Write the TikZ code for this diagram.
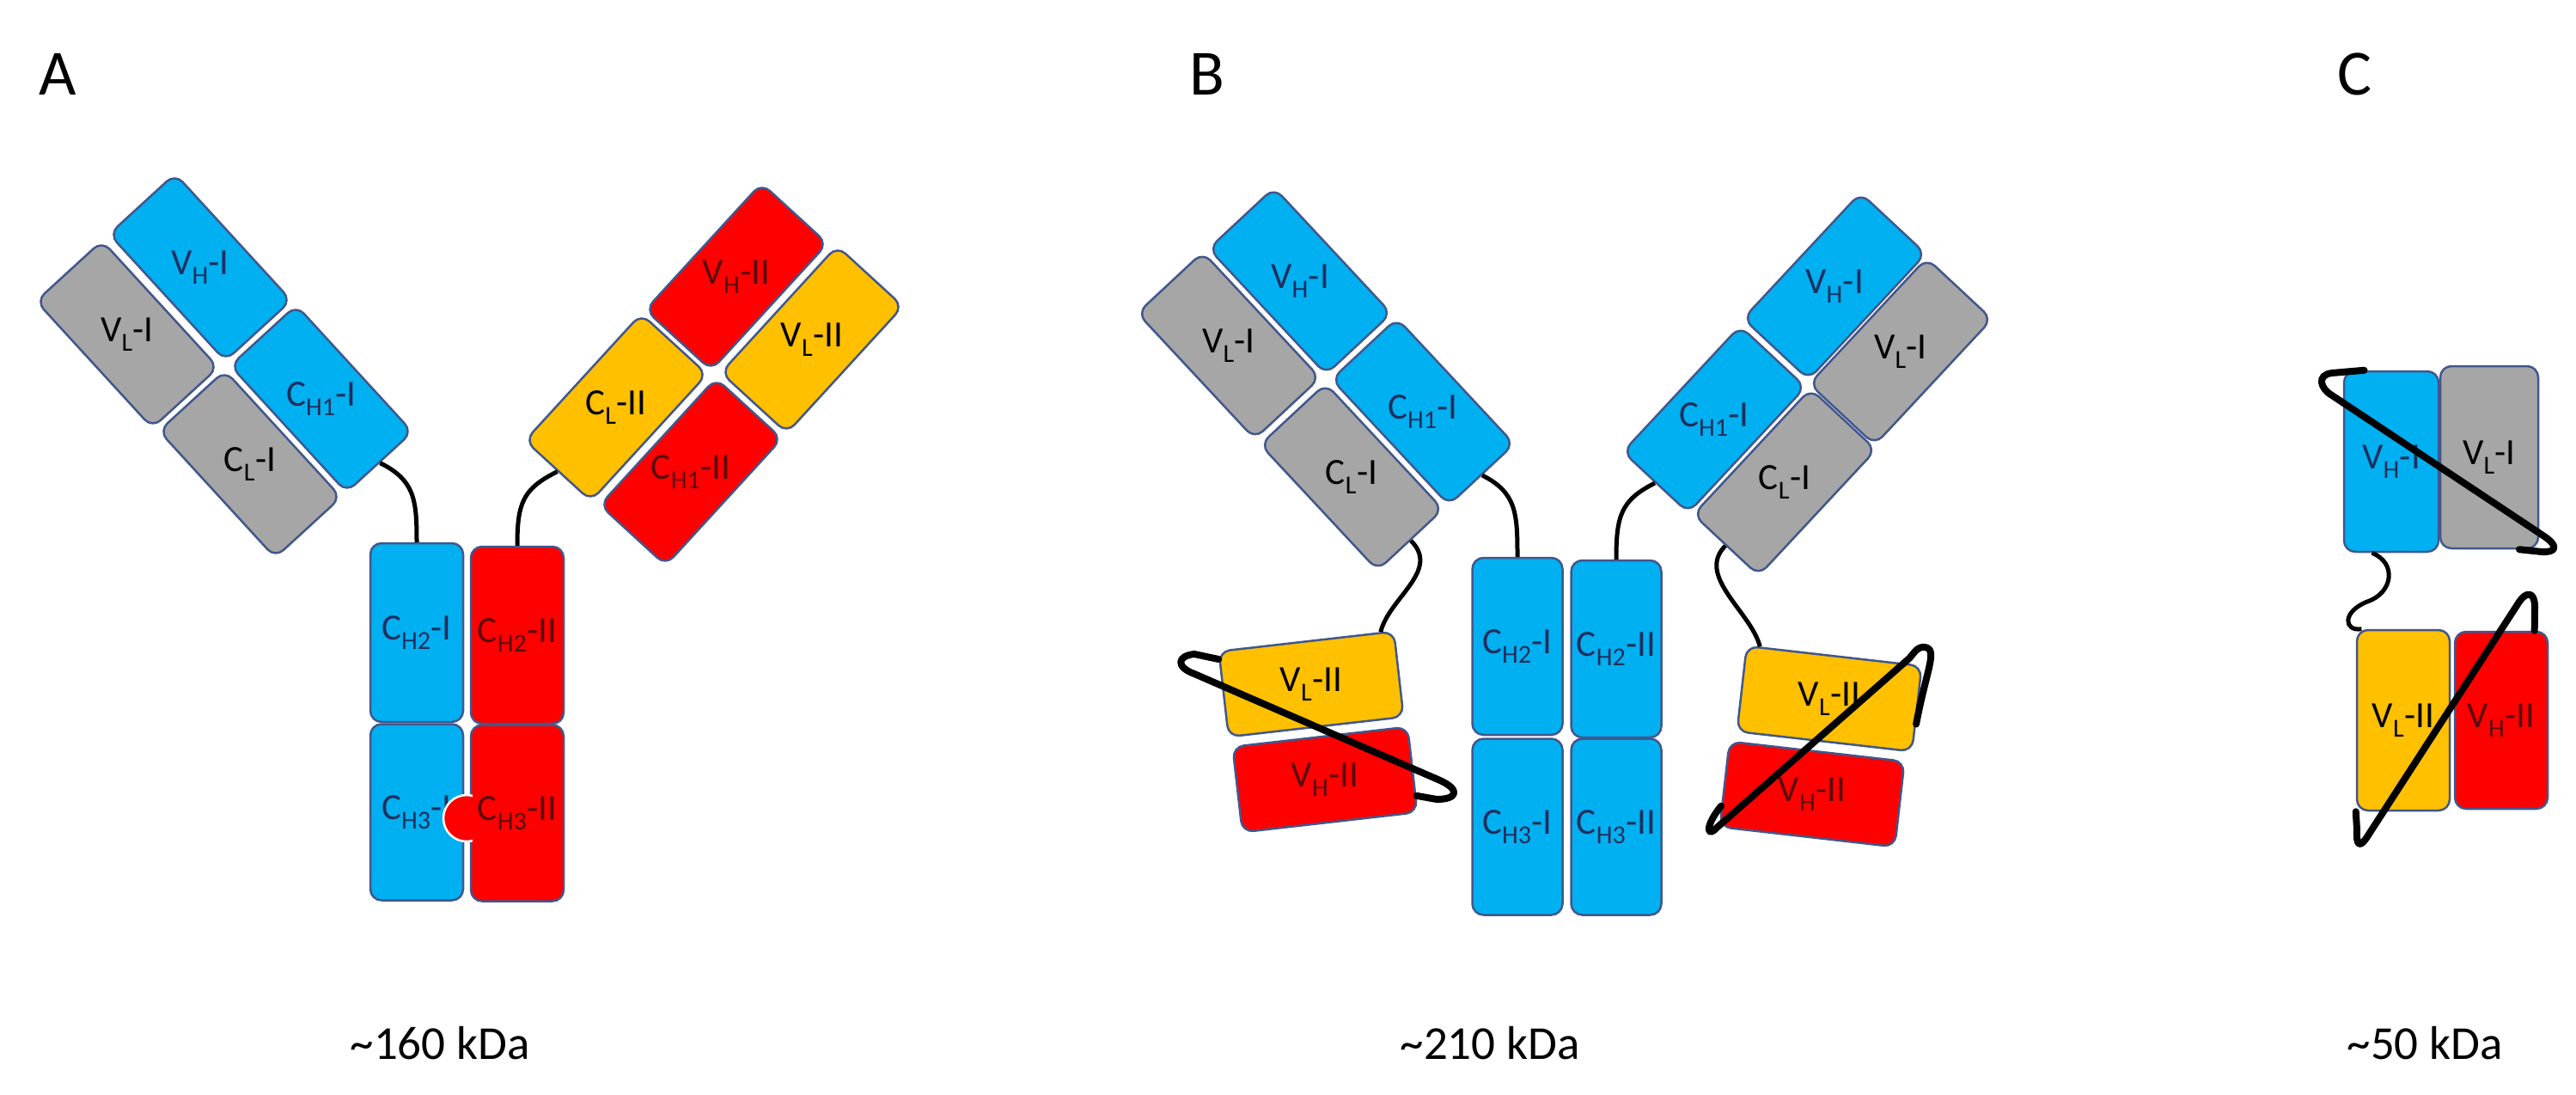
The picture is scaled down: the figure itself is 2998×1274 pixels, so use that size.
\documentclass[tikz,border=0pt]{standalone}
\usepackage{fontspec}
\setmainfont{Carlito}
\usetikzlibrary{calc}
\definecolor{cblue}{HTML}{00B0F0}
\definecolor{cgrey}{HTML}{A6A6A6}
\definecolor{cred}{HTML}{FF0000}
\definecolor{corange}{HTML}{FFC000}
\definecolor{cborder}{HTML}{41578C}
\definecolor{tblue}{HTML}{1F2F5F}
\definecolor{tred}{HTML}{5A0A0A}
\tikzset{
 tile/.style={draw=cborder, line width=2.5pt, rounded corners=13pt, minimum width=200pt, minimum height=104pt, inner sep=0pt},
 lab/.style={font=\fontsize{43}{46}\selectfont, inner sep=0pt},
 hinge/.style={line width=5pt, black},
 linker/.style={line width=8pt, black, line cap=round, line join=round},
 panel/.style={font=\fontsize{75}{80}\selectfont, inner sep=0pt},
 mass/.style={font=\fontsize{55}{60}\selectfont, inner sep=0pt},
}
\newcommand{\dom}[7]{% name, coord, angle, fill, textcolor, label, extra
 \node[tile, fill=#4, rotate=#3, #7] (#1) at (#2) {};
 \node[lab, text=#5] at (#1.center) {#6};}
\begin{document}
\begin{tikzpicture}[x=1pt,y=-1pt]
\useasboundingbox (0,0) rectangle (2998,1274);
% ---------- Panel A ----------
\node[panel] (pA) at (67,86) {A};
\dom{vhA}{233,311}{-47.5}{cblue}{tblue}{V\textsubscript{H}-I}{}
\dom{vlA}{148,389}{-47.5}{cgrey}{black}{V\textsubscript{L}-I}{}
\dom{chA}{374,464}{-47.5}{cblue}{tblue}{C\textsubscript{H1}-I}{}
\dom{clA}{291,540}{-47.5}{cgrey}{black}{C\textsubscript{L}-I}{}
\dom{vhA2}{857,322}{47.5}{cred}{tred}{V\textsubscript{H}-II}{}
\dom{vlA2}{945,395}{47.5}{corange}{black}{V\textsubscript{L}-II}{}
\dom{clA2}{717,474}{47.5}{corange}{black}{C\textsubscript{L}-II}{}
\dom{chA2}{804,549}{47.5}{cred}{tred}{C\textsubscript{H1}-II}{}
\dom{ch2A}{485,736}{0}{cblue}{tblue}{C\textsubscript{H2}-I}{minimum width=108pt, minimum height=208pt}
\dom{ch3A}{485,945}{0}{cblue}{tblue}{C\textsubscript{H3}-I}{minimum width=108pt, minimum height=205pt}
\dom{ch2A2}{602,739}{0}{cred}{tred}{C\textsubscript{H2}-II}{minimum width=108pt, minimum height=206pt}
\dom{ch3A2}{602,946}{0}{cred}{tred}{}{minimum width=108pt, minimum height=205pt}
\fill[cred, draw=white, line width=2.5pt] (543,952) circle (27);
\fill[cred] (550,922) rectangle (575,982);
\node[lab, text=tred] at (ch3A2.center) {C\textsubscript{H3}-II};
\draw[hinge] (chA.east) .. controls +(40,20) and +(0,-50) .. (ch2A.north);
\draw[hinge] (clA2.west) .. controls +(-40,20) and +(0,-50) .. (ch2A2.north);
\node[mass] (mA) at (512,1214) {\textasciitilde160 kDa};
% ---------- Panel B ----------
\node[panel] (pB) at (1405,86) {B};
\dom{vhB}{1513,327}{-47}{cblue}{tblue}{V\textsubscript{H}-I}{}
\dom{vlB}{1430,402}{-47}{cgrey}{black}{V\textsubscript{L}-I}{}
\dom{chB}{1656,479}{-47}{cblue}{tblue}{C\textsubscript{H1}-I}{}
\dom{clB}{1573,555}{-47}{cgrey}{black}{C\textsubscript{L}-I}{}
\dom{vhC}{2135,333}{47}{cblue}{tblue}{V\textsubscript{H}-I}{}
\dom{vlC}{2212,409}{47}{cgrey}{black}{V\textsubscript{L}-I}{}
\dom{chC}{1995,488}{47}{cblue}{tblue}{C\textsubscript{H1}-I}{}
\dom{clC}{2077,561}{47}{cgrey}{black}{C\textsubscript{L}-I}{}
\dom{ch2B}{1766,752}{0}{cblue}{tblue}{C\textsubscript{H2}-I}{minimum width=105pt, minimum height=206pt}
\dom{ch3B}{1766,962}{0}{cblue}{tblue}{C\textsubscript{H3}-I}{minimum width=105pt, minimum height=205pt}
\dom{ch2B2}{1881,755}{0}{cblue}{tblue}{C\textsubscript{H2}-II}{minimum width=105pt, minimum height=206pt}
\dom{ch3B2}{1881,962}{0}{cblue}{tblue}{C\textsubscript{H3}-II}{minimum width=105pt, minimum height=205pt}
\draw[hinge] (chB.east) .. controls +(40,20) and +(0,-50) .. (ch2B.north);
\draw[hinge] (chC.west) .. controls +(-40,20) and +(0,-50) .. (ch2B2.north);
\dom{vl2B}{1526,796}{6.5}{corange}{black}{V\textsubscript{L}-II}{minimum width=205pt, minimum height=100pt}
\dom{vh2B}{1542,907}{6.5}{cred}{tred}{V\textsubscript{H}-II}{minimum width=205pt, minimum height=100pt}
\dom{vl2C}{2129,813}{-6.5}{corange}{black}{V\textsubscript{L}-II}{minimum width=205pt, minimum height=100pt}
\dom{vh2C}{2109,924}{-6.5}{cred}{tred}{V\textsubscript{H}-II}{minimum width=205pt, minimum height=100pt}
\draw[hinge] (clB.east) .. controls +(35,35) and +(10,-40) .. ($(vl2B.north east)!0.08!(vl2B.north west)$);
\draw[hinge] (clC.west) .. controls +(-35,35) and +(-10,-40) .. ($(vl2C.north west)!0.08!(vl2C.north east)$);
\draw[linker] ($(vl2B.north west)!0.1!(vl2B.south west)$) -- (1390,761) .. controls (1370,763) and (1368,776) .. (1390,784) -- (1676,908) .. controls (1700,919) and (1696,930) .. (1672,930) -- ($(vh2B.east)!0.6!(vh2B.south east)$);
\draw[linker] ($(vl2C.east)!0.35!(vl2C.south east)$) .. controls (2242,779) and (2256,755) .. (2240,753) .. controls (2232,752) and (2228,759) .. (2222,766) -- (1998,963) .. controls (1986,976) and (1984,961) .. ($(vh2C.west)!0.5!(vh2C.south west)$);
\node[mass] (mB) at (1734,1214) {\textasciitilde210 kDa};
% ---------- Panel C ----------
\node[panel] (pC) at (2740,86) {C};
\dom{vhD}{2783,537}{0}{cblue}{tblue}{V\textsubscript{H}-I}{minimum width=110pt, minimum height=210pt}
\dom{vlD}{2897,532}{0}{cgrey}{black}{V\textsubscript{L}-I}{minimum width=114pt, minimum height=212pt}
\dom{vl2D}{2797,838}{0}{corange}{black}{V\textsubscript{L}-II}{minimum width=108pt, minimum height=210pt}
\dom{vh2D}{2911,838}{0}{cred}{tred}{V\textsubscript{H}-II}{minimum width=108pt, minimum height=206pt}
\draw[hinge] ($(vhD.south west)!0.3!(vhD.south east)$) .. controls (2790,655) and (2785,690) .. (2755,700) .. controls (2725,712) and (2728,735) .. ($(vl2D.north west)!0.06!(vl2D.north east)$);
\draw[linker] ($(vhD.north west)!0.22!(vhD.north east)$) -- (2714,434) .. controls (2696,436) and (2700,452) .. (2714,460) -- (2958,622) .. controls (2980,636) and (2974,643) .. (2958,642) -- ($(vlD.south east)!0.2!(vlD.south west)$);
\draw[linker] ($(vh2D.north east)!0.15!(vh2D.north west)$) -- (2950,706) .. controls (2950,688) and (2940,688) .. (2932,700) -- (2756,972) .. controls (2746,988) and (2742,984) .. (2743,965) -- (vl2D.south west);
\node[mass] (mC) at (2822,1214) {\textasciitilde50 kDa};
\end{tikzpicture}
\end{document}
